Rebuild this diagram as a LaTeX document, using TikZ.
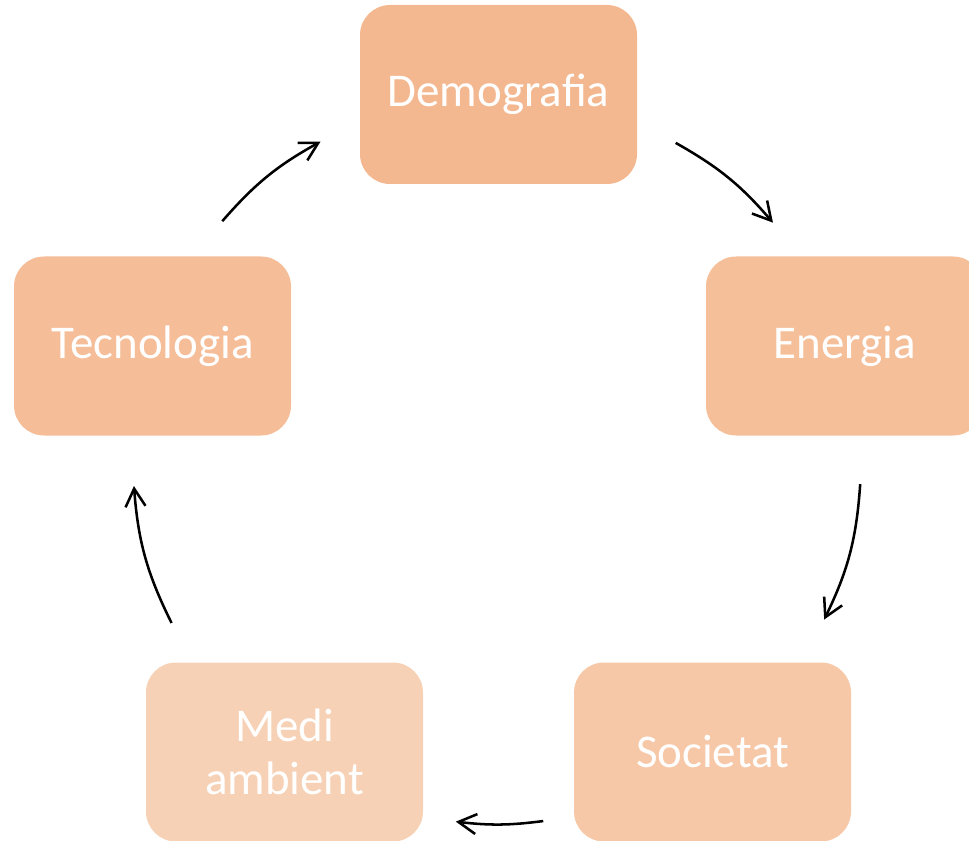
\documentclass[tikz,border=0pt]{standalone}
\usepackage{fontspec}
\setmainfont{Carlito}
\usetikzlibrary{arrows.meta}

\definecolor{tdem}{HTML}{F4B891}
\definecolor{tene}{HTML}{F5BF9A}
\definecolor{tsoc}{HTML}{F6C8A8}
\definecolor{tmed}{HTML}{F7D1B5}
\definecolor{ttec}{HTML}{F5BD98}

\tikzset{
    caixa/.style={rectangle, rounded corners=0.75cm, minimum width=6.925cm, minimum height=4.475cm,
        inner sep=0pt, align=center, text=white, font=\fontsize{33.4}{37.7}\selectfont},
    fletxa/.style={-{Straight Barb[length=0.45cm,width=0.5cm]}, line width=1.8pt, black}
}

\begin{document}
\begin{tikzpicture}
                \useasboundingbox (0,0) rectangle (24.225,21);
                \clip (0,0) rectangle (24.225,21);
                
                \node[caixa, fill=tdem] (dem) at (12.4625,18.6375) {Demografia};
                \node[caixa, fill=tene] (ene) at (21.1125,12.35) {Energia};
                \node[caixa, fill=tsoc] (soc) at (17.8125,2.2) {Societat};
                \node[caixa, fill=tmed] (med) at (7.1125,2.2) {Medi\\ambient};
                \node[caixa, fill=ttec] (tec) at (3.8125,12.35) {Tecnologia};
                
                % centre del cercle
                \coordinate (c) at (12.425,9.5);
                \path (c) ++(139:9.1) coordinate (a1) (c) ++(119:9.1) coordinate (a2);
                \path (c) ++(60.6:9.1) coordinate (b1) (c) ++(40.7:9.1) coordinate (b2);
                \path (c) ++(-3.8:9.1) coordinate (d1) (c) ++(-26:9.1) coordinate (d2);
                \path (c) ++(-82.7:9.1) coordinate (e1) (c) ++(-96.5:9.1) coordinate (e2);
                \path (c) ++(206.6:9.1) coordinate (f1) (c) ++(184.1:9.1) coordinate (f2);
                
                \draw[fletxa] (a1) to[bend left=10] (a2);
                \draw[fletxa] (b1) to[bend left=10] (b2);
                \draw[fletxa] (d1) to[bend left=11] (d2);
                \draw[fletxa] (e1) to[bend left=7] (e2);
                \draw[fletxa] (f1) to[bend left=11] (f2);
            \end{tikzpicture}
\end{document}
